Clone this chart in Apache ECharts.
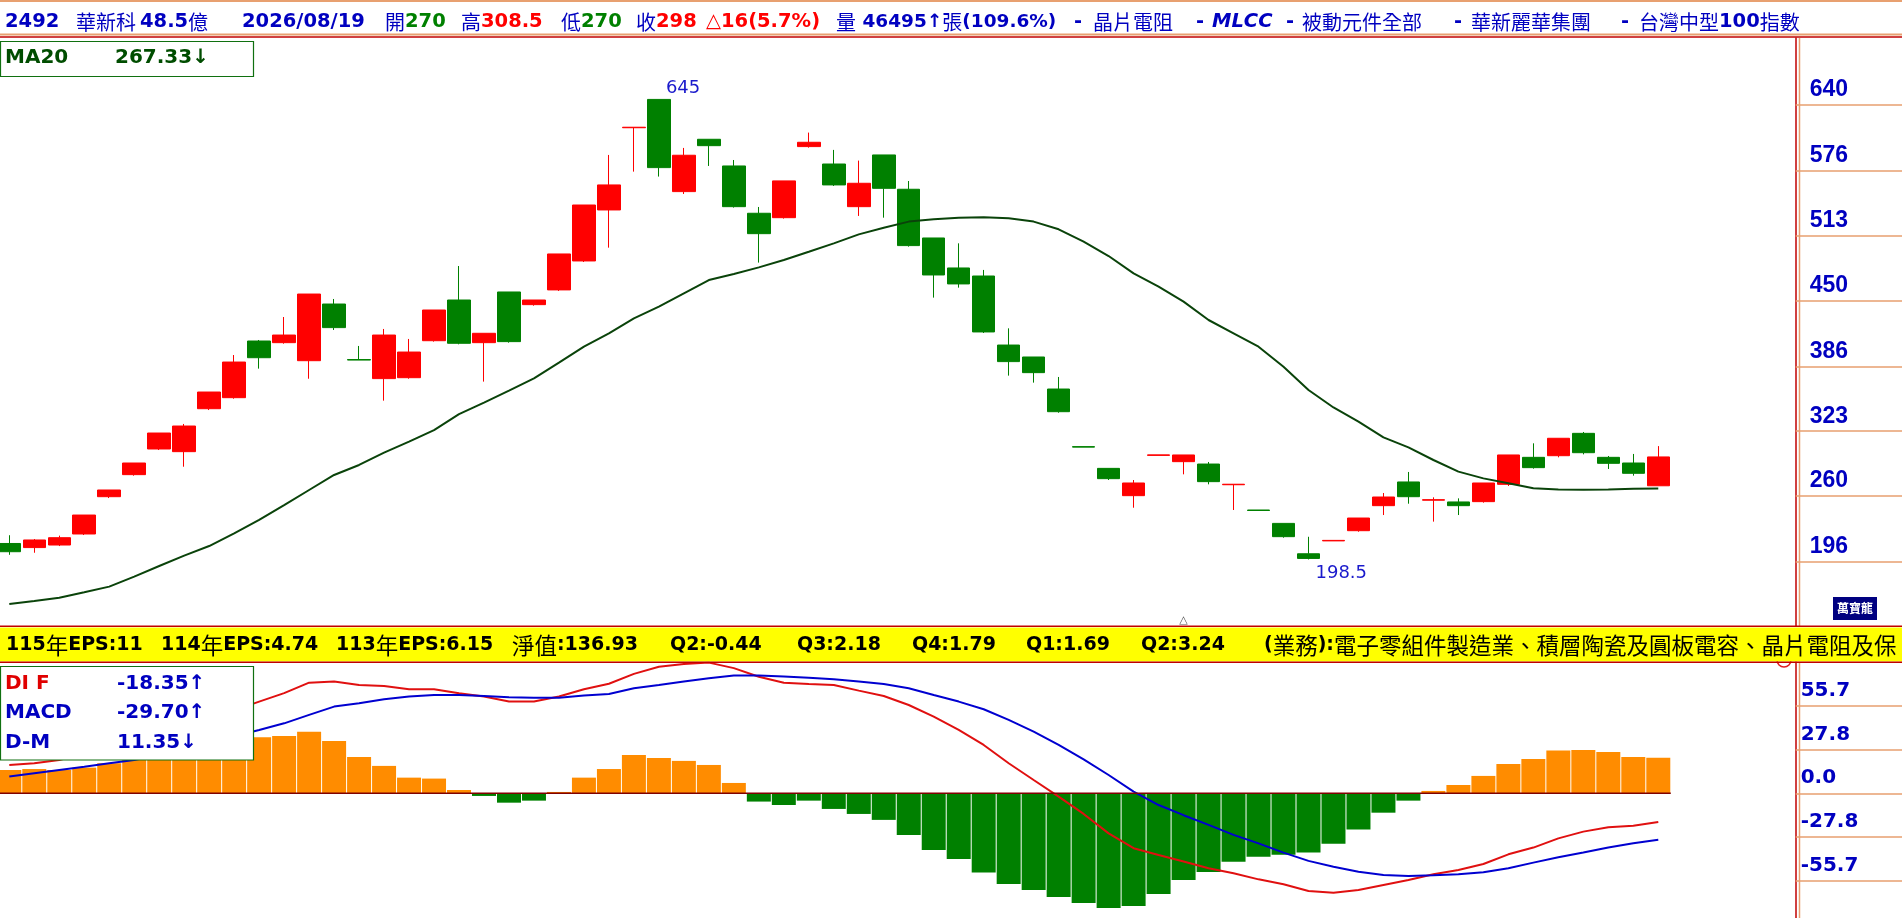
<!DOCTYPE html>
<html><head><meta charset="utf-8">
<script src="https://cdn.jsdelivr.net/npm/echarts@6/dist/echarts.min.js"></script>
<style>html,body{margin:0;padding:0;background:#fff;overflow:hidden}#c{width:1902px;height:918px}</style>
</head><body><div id="c"></div>
<script>
// ---------------- data ----------------
const dayCount = 67;
const categories = Array.from({length: 72}, (_, i) => i < dayCount ? 'D' + (i + 1) : 'P' + (i - dayCount + 1));
const openPrices = [214,210,212.5,223.2,259.4,280.8,305.7,303.1,344.8,355.5,
  410.5,408.9,391.4,446.4,392.5,374,374.9,410.8,450.3,408.9,
  458.1,445.8,460.1,488.2,537.7,617.5,645,555.5,606.3,580.4,
  534.5,530.2,599.2,582.3,540.9,591.1,557.8,510.5,481.4,473.6,
  406.6,395,363.9,308,286.9,260.4,299.5,293.4,291.1,271,
  246.5,233.5,204,216.5,226.4,250.7,273.7,256,254.3,254.6,
  271.4,297.6,299.2,320.9,297.6,292.1,270];
const closePrices = [206,217.4,219.6,241.6,265.9,292.1,321.2,328,361,390.1,
  394.3,416.3,456.1,423.5,392,416.3,399.8,440.6,408.3,418,
  409.9,450.3,495,542.5,562,618,578.8,590.8,600.1,540.9,
  514.7,565.9,603.4,562,563.6,558.7,503.1,474.6,465.9,419.3,
  390.5,379.8,341.9,307.5,276.9,272.7,300,299.9,274,271.5,
  246,220.6,199.5,217,238.7,259.1,259.4,256.5,250.7,272.7,
  299.9,287.6,316.1,302.1,291.8,282.1,298];
const lowPrices = [203,205,211.5,222.2,258.1,279.8,304.7,288.5,343.5,354.5,
  383.7,407.9,373.9,421.2,392,352.6,373.9,409.9,407.3,371.1,
  408.9,444.8,459.1,487.2,501.1,574.9,570.1,553.2,580.4,540,
  486.6,529.3,598.2,561,531.9,530.2,502.1,452.6,462.3,418.3,
  376.9,370.1,340.9,307.5,275.6,248.7,299.5,281.1,271.4,246.5,
  246,219.6,198.5,216.5,225.4,241.6,252.6,235.2,241.6,253.6,
  269.8,286.6,297.6,300.5,286.3,279.8,270];
const highPrices = [222,218.3,221.6,241.6,265.9,292.1,321.2,330,361,396.9,
  411.5,433.8,456.1,451.3,405.7,422.2,412.5,440.6,483.3,418,
  458.1,450.3,495,542.5,591.1,618,645,597.9,606.3,586.2,
  540.6,565.9,612.8,596,585.6,591.1,565.8,510.5,505.3,479.5,
  422.8,395,375.6,308,286.9,275.6,300,299.9,293.1,271.5,
  246.5,233.5,220.5,217,238.7,263,283.4,258.8,257.8,272.7,
  299.9,311.2,316.1,322.2,298.9,300.9,308.5];
const ma20 = [155.2,158.1,161.4,166.6,172.1,181.8,192.1,202.2,211.5,223.8,
  236.8,251.3,265.9,280.5,290.2,302.1,312.8,324.1,339.5,350.7,
  362.3,374.3,389.5,405,418,432.5,443.9,456.8,469.7,475.6,
  482,489.2,497.2,505.3,514,520.4,526.4,528.6,530.2,530.6,
  529.6,526.4,518.9,506.9,493,476.2,463.3,448.7,430.9,418,
  405,385.6,363,346,332.2,317,307.3,295,283.7,277.2,
  272.4,267.5,266.5,266.2,266.5,267.2,267.33];
const dif = [18.1,19.2,21.3,25.2,28.8,32.3,37.1,42.2,47.7,53,
  58.6,64,70.7,71.4,69.2,68.6,66.5,66.5,63.9,61.8,
  58.6,58.6,61.8,66.5,70,76.3,80.9,82.6,83.5,80,
  74.5,70.7,69.9,69.2,65.6,62.2,56.4,49,40.5,30.9,
  19.2,8.5,-2.1,-13.2,-25.6,-35.1,-39.4,-43.6,-47.9,-51.1,
  -55,-58.1,-62.4,-63.5,-61.8,-58.6,-55.4,-51.8,-49,-45.2,
  -39,-34.7,-28.8,-24.5,-21.7,-20.7,-18.35];
const macd = [10.7,12.8,14.9,17,19.2,21.3,24.6,28.2,32.2,36.5,
  40.5,44.7,50.1,55.4,57.5,60.1,61.8,62.8,62.8,62.2,
  61.3,61.1,61.1,62.5,63.5,67.1,69.2,71.4,73.5,75.2,
  75.2,74.6,73.9,72.8,71.4,69.9,67.1,62.8,58.6,53.7,
  46.9,39.4,30.9,21.7,11.7,1.1,-7.5,-14,-20.2,-26.6,
  -32,-37.9,-43.2,-46.9,-50.1,-52.2,-52.8,-52.4,-51.8,-50.5,
  -47.9,-44.3,-40.9,-37.9,-34.7,-32,-29.7];
const osc = [14.9,15.5,14.9,16.4,19.2,22,25,28,31,33,
  35.8,36.6,39.4,33.4,23.2,17.5,10,9.4,2.1,-1.7,
  -6,-4.7,0.85,10,15.5,24.5,22.6,20.7,18.1,6.6,
  -5.3,-7.5,-4.7,-10,-13.2,-17,-26.6,-36.2,-42,-50.7,
  -57.9,-61.8,-66.2,-70.1,-73.3,-72,-64.3,-55.4,-50.3,-43.7,
  -40.5,-39.2,-37.9,-32.2,-23.2,-12.4,-4.7,1.5,5.3,11.1,
  18.7,21.9,27.3,27.7,26.4,23.2,22.7];
const priceTicks = [640,576,513,450,386,323,260,196];
const macdTicks = [55.7,27.8,0,-27.8,-55.7];
const markerDay = 47;

// ---------------- text content ----------------
const headerParts = [
  [5,   [['2492','nb']]],
  [76,  [['華新科','cj']]],
  [140, [['48.5','nb'],['億','cj']]],
  [242, [['2026/08/19','nb']]],
  [385, [['開','cj'],['270','ng']]],
  [461, [['高','cj'],['308.5','nr']]],
  [561, [['低','cj'],['270','ng']]],
  [636, [['收','cj'],['298','nr']]],
  [706, [['△16(5.7%)','nr']]],
  [836, [['量','cj'],[' 46495↑','ns'],['張','cj'],['(109.6%)','ns']]],
  [1074,[['-','nb']]],
  [1093,[['晶片電阻','cj']]],
  [1196,[['-','nb']]],
  [1212,[['MLCC','ib']]],
  [1286,[['-','nb']]],
  [1302,[['被動元件全部','cj']]],
  [1454,[['-','nb']]],
  [1471,[['華新麗華集團','cj']]],
  [1621,[['-','nb']]],
  [1639,[['台灣中型','cj'],['100','nb'],['指數','cj']]]
];
const bandParts = [
  [6,   [['115','bn'],['年','bc'],['EPS:11','bn']]],
  [161, [['114','bn'],['年','bc'],['EPS:4.74','bn']]],
  [336, [['113','bn'],['年','bc'],['EPS:6.15','bn']]],
  [512, [['淨值','bc'],[':136.93','bn']]],
  [670, [['Q2:-0.44','bn']]],
  [797, [['Q3:2.18','bn']]],
  [912, [['Q4:1.79','bn']]],
  [1026,[['Q1:1.69','bn']]],
  [1141,[['Q2:3.24','bn']]],
  [1264,[['(','bn'],['業務','bc'],['):','bn'],['電子零組件製造業、積層陶瓷及圓板電容、晶片電阻及保','bc']]]
];

// ---------------- styles ----------------
const NUM = "'DejaVu Sans', 'Noto Sans CJK TC', sans-serif";
const CJK = "'Noto Sans CJK TC', 'Noto Sans CJK SC', sans-serif";
const LIB = "'Liberation Sans', 'DejaVu Sans', sans-serif";
const BLUE = '#0000c0', RED = '#ff0000', GREEN = '#008000', ORANGE = '#ff8c00';
const LINE_OR = '#e8a070', LINE_RED = '#c00000';

const headerRich = {
  nb: {fill: BLUE, fontFamily: NUM, fontWeight: 'bold', fontSize: 19.5},
  ns: {fill: BLUE, fontFamily: NUM, fontWeight: 'bold', fontSize: 18.5},
  ib: {fill: BLUE, fontFamily: NUM, fontWeight: 'bold', fontStyle: 'italic', fontSize: 19.5},
  ng: {fill: GREEN, fontFamily: NUM, fontWeight: 'bold', fontSize: 19.5},
  nr: {fill: RED, fontFamily: NUM, fontWeight: 'bold', fontSize: 19.5},
  cj: {fill: BLUE, fontFamily: CJK, fontSize: 20}
};
const bandRich = {
  bn: {fill: '#000', fontFamily: NUM, fontWeight: 'bold', fontSize: 19},
  bc: {fill: '#000', fontFamily: CJK, fontSize: 22.5}
};

function richEl(x, y, parts, rich, z) {
  return {type: 'text', x: x, y: y, z: z || 30, silent: true,
    style: {text: parts.map(p => '{' + p[1] + '|' + p[0] + '}').join(''), rich: rich,
      align: 'left', verticalAlign: 'middle'}};
}
function lineEl(x1, y1, x2, y2, color, w, z) {
  return {type: 'line', z: z || 25, silent: true, shape: {x1, y1, x2, y2}, style: {stroke: color, lineWidth: w}};
}
function textEl(x, y, text, color, font, size, weight, z) {
  return {type: 'text', x, y, z: z || 30, silent: true,
    style: {text, fill: color, fontFamily: font, fontSize: size, fontWeight: weight || 'normal', align: 'left', verticalAlign: 'middle'}};
}

const candleData = openPrices.map((o, i) => [o, closePrices[i], lowPrices[i], highPrices[i]]);

const option = {
  animation: false,
  backgroundColor: '#ffffff',
  grid: [
    {left: -3.2, right: 106.3, top: 38, height: 588, containLabel: false, outerBoundsMode: 'none'},
    {left: -3.2, right: 106.3, top: 662, height: 256, containLabel: false, outerBoundsMode: 'none'}
  ],
  xAxis: [
    {type: 'category', gridIndex: 0, data: categories, boundaryGap: true, show: false},
    {type: 'category', gridIndex: 1, data: categories, boundaryGap: true, show: false}
  ],
  yAxis: [
    {type: 'value', gridIndex: 0, position: 'right', min: 133.9, max: 704.6,
      splitLine: {show: false},
      axisLine: {show: true, lineStyle: {color: LINE_RED, width: 1.5}},
      axisTick: {show: true, customValues: priceTicks, length: 107, inside: false, lineStyle: {color: LINE_OR, width: 1.5}},
      axisLabel: {show: true, customValues: priceTicks, formatter: v => String(Math.round(v)),
        margin: 14, color: BLUE, fontFamily: LIB, fontWeight: 'bold', fontSize: 23,
        align: 'left', verticalAlign: 'bottom', lineHeight: 24, padding: [0, 0, 3, 0]}},
    {type: 'value', gridIndex: 1, position: 'right', min: -79.7, max: 83.9,
      splitLine: {show: false},
      axisLine: {show: true, lineStyle: {color: LINE_RED, width: 1.5}},
      axisTick: {show: true, customValues: macdTicks, length: 107, inside: false, lineStyle: {color: LINE_OR, width: 1.5}},
      axisLabel: {show: true, customValues: macdTicks, formatter: v => v.toFixed(1),
        margin: 5, color: BLUE, fontFamily: NUM, fontWeight: 'bold', fontSize: 20,
        align: 'left', verticalAlign: 'bottom', lineHeight: 22, padding: [0, 0, 4, 0]}}
  ],
  series: [
    {type: 'candlestick', xAxisIndex: 0, yAxisIndex: 0, data: candleData,
      barWidth: 23, barMaxWidth: 40,
      itemStyle: {color: RED, color0: GREEN, borderColor: RED, borderColor0: GREEN, borderWidth: 1},
      markPoint: {symbol: 'circle', symbolSize: 0, silent: true,
        label: {show: true, color: '#1a1acc', fontFamily: NUM, fontSize: 18, align: 'left', verticalAlign: 'middle'},
        data: [
          {type: 'max', valueDim: 'highest', label: {position: [7, -11], formatter: p => String(p.value)}},
          {type: 'min', valueDim: 'lowest', label: {position: [7, 14], formatter: p => String(p.value)}}
        ]}},
    {type: 'line', xAxisIndex: 0, yAxisIndex: 0, data: ma20, symbol: 'none', z: 4,
      lineStyle: {color: '#0a430a', width: 2}},
    {type: 'bar', xAxisIndex: 1, yAxisIndex: 1, data: osc, barWidth: 24,
      itemStyle: {color: p => (p.value >= 0 ? ORANGE : GREEN)}},
    {type: 'line', xAxisIndex: 1, yAxisIndex: 1, data: dif, symbol: 'none', z: 4,
      lineStyle: {color: '#e01010', width: 2}},
    {type: 'line', xAxisIndex: 1, yAxisIndex: 1, data: macd, symbol: 'none', z: 4,
      lineStyle: {color: '#0000d0', width: 2}}
  ]
};

const chart = echarts.init(document.getElementById('c'), null, {renderer: 'canvas'});
chart.setOption(option);

// positions derived from the axes
const z0 = chart.convertToPixel({gridIndex: 1}, [0, 0]);
const z1 = chart.convertToPixel({gridIndex: 1}, [1, 0]);
const zl = chart.convertToPixel({gridIndex: 1}, [closePrices.length - 1, 0]);
const half = (z1[0] - z0[0]) / 2;
const mk = chart.convertToPixel({gridIndex: 0}, [markerDay, 0]);

const els = [];
// frame lines
els.push(lineEl(0, 1, 1902, 1, LINE_OR, 2));
els.push(lineEl(0, 34.5, 1902, 34.5, LINE_OR, 2));
els.push(lineEl(0, 37, 1902, 37, LINE_RED, 1.5));
els.push(lineEl(1799.5, 38, 1799.5, 626, LINE_OR, 1.5));
els.push(lineEl(1799.5, 662, 1799.5, 918, LINE_OR, 1.5));
// small red ring under the band
els.push({type: 'circle', z: 20, silent: true, shape: {cx: 1784, cy: 660, r: 7}, style: {fill: 'none', stroke: '#e02020', lineWidth: 1.5}});
// band
els.push({type: 'rect', z: 24, silent: true, shape: {x: 0, y: 627.5, width: 1902, height: 34}, style: {fill: '#ffff00'}});
els.push(lineEl(0, 626.3, 1902, 626.3, LINE_RED, 1.5, 26));
els.push(lineEl(0, 662.2, 1902, 662.2, LINE_RED, 1.5, 26));
bandParts.forEach(p => els.push(richEl(p[0], 645, p[1], bandRich)));
// header
headerParts.forEach(p => els.push(richEl(p[0], 22, p[1], headerRich)));
// MA20 legend box
els.push({type: 'rect', z: 28, silent: true, shape: {x: 0.5, y: 41.5, width: 253, height: 35}, style: {fill: '#fff', stroke: '#107010', lineWidth: 1.2}});
els.push(textEl(5, 58, 'MA20', '#004d00', NUM, 20, 'bold'));
els.push(textEl(115, 58, '267.33↓', '#004d00', NUM, 20, 'bold'));
// MACD legend box
els.push({type: 'rect', z: 28, silent: true, shape: {x: 0.5, y: 666.5, width: 253, height: 93.5}, style: {fill: '#fff', stroke: '#107010', lineWidth: 1.2}});
els.push(textEl(5, 684, 'DI F', '#e00000', NUM, 20, 'bold'));
els.push(textEl(117, 684, '-18.35↑', BLUE, NUM, 20, 'bold'));
els.push(textEl(5, 713, 'MACD', BLUE, NUM, 20, 'bold'));
els.push(textEl(117, 713, '-29.70↑', BLUE, NUM, 20, 'bold'));
els.push(textEl(5, 743, 'D-M', BLUE, NUM, 20, 'bold'));
els.push(textEl(117, 743, '11.35↓', BLUE, NUM, 20, 'bold'));
// logo
els.push({type: 'rect', z: 28, silent: true, shape: {x: 1833, y: 597, width: 44, height: 23}, style: {fill: '#000080'}});
els.push({type: 'text', z: 30, silent: true, x: 1855, y: 608.5, style: {text: '萬寶龍', fill: '#fff', fontFamily: CJK, fontWeight: 'bold', fontSize: 12, align: 'center', verticalAlign: 'middle'}});
// zero line of MACD
els.push(lineEl(z0[0] - half, z0[1], zl[0] + half, z0[1], '#800000', 1.5, 6));
// marker triangle
els.push({type: 'text', z: 30, silent: true, x: mk[0], y: 626, style: {text: '△', fill: '#555', fontFamily: NUM, fontSize: 11, align: 'center', verticalAlign: 'bottom'}});

chart.setOption({graphic: {elements: els}});
</script>
</body></html>
